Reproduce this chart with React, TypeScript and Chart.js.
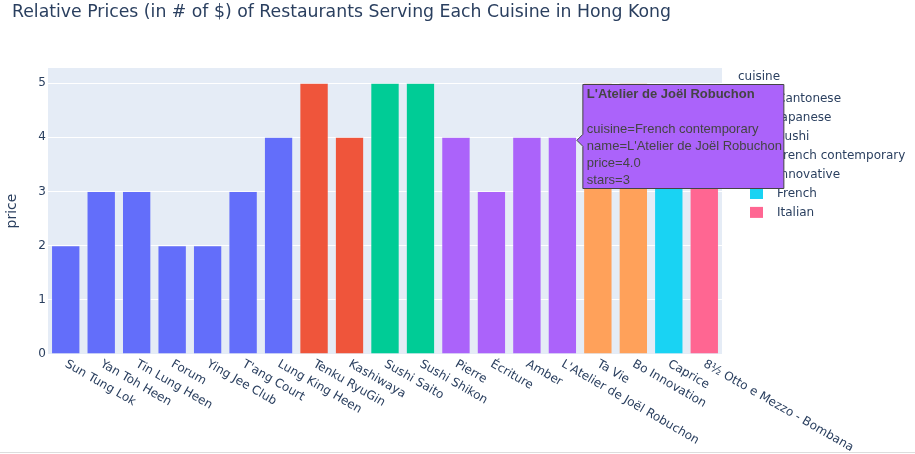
import React, { useEffect, useRef } from "react";
import { Chart, registerables } from "chart.js";

Chart.register(...registerables);

const restaurants = [
  "Sun Tung Lok", "Yan Toh Heen", "Tin Lung Heen", "Forum", "Ying Jee Club", "T'ang Court",
  "Lung King Heen", "Tenku RyuGin", "Kashiwaya", "Sushi Saito", "Sushi Shikon", "Pierre",
  "Écriture", "Amber", "L'Atelier de Joël Robuchon", "Ta Vie", "Bo Innovation", "Caprice",
  "8½ Otto e Mezzo - Bombana",
];
const restaurantCuisine = [
  "Cantonese", "Cantonese", "Cantonese", "Cantonese", "Cantonese", "Cantonese", "Cantonese",
  "Japanese", "Japanese", "Sushi", "Sushi", "French contemporary", "French contemporary",
  "French contemporary", "French contemporary", "Innovative", "Innovative", "French", "Italian",
];
const prices = [2, 3, 3, 2, 2, 3, 4, 5, 4, 5, 5, 4, 3, 4, 4, 5, 5, 4, 4];
const cuisines = ["Cantonese", "Japanese", "Sushi", "French contemporary", "Innovative", "French", "Italian"];
const palette = ["#636efa", "#EF553B", "#00cc96", "#ab63fa", "#FFA15A", "#19d3f3", "#FF6692"];
const yTicks = [0, 1, 2, 3, 4, 5];
const titleText = "Relative Prices (in # of $) of Restaurants Serving Each Cuisine in Hong Kong";
const hoverIndex = 14;
const hoverStars = 3;

const FONT = "'DejaVu Sans', Verdana, sans-serif";
const HFONT = "'Liberation Sans', Arial, sans-serif";
const TXT = "#2a3f5f";

export default function App() {
  const ref = useRef<HTMLCanvasElement | null>(null);

  useEffect(() => {
    document.body.style.margin = "0";
    const canvas = ref.current!;
    const datasets = cuisines.map((c, ci) => ({
      label: c,
      data: restaurants.map((_, i) => (restaurantCuisine[i] === c ? prices[i] : null)),
      backgroundColor: palette[ci],
      borderColor: "#E5ECF6",
      borderWidth: 0.5,
      categoryPercentage: 1,
      barPercentage: 0.8,
    }));

    const deco = {
      id: "deco",
      beforeDraw(chart: any) {
        const { ctx, chartArea: a } = chart;
        ctx.save();
        ctx.fillStyle = "#ffffff";
        ctx.fillRect(0, 0, chart.width, chart.height);
        ctx.fillStyle = "#E5ECF6";
        ctx.fillRect(a.left, a.top, a.right - a.left, a.bottom - a.top + 1);
        ctx.restore();
      },
      afterDraw(chart: any) {
        const { ctx, chartArea: a } = chart;
        const xs = chart.scales.x;
        const ys = chart.scales.y;
        ctx.save();
        // title
        ctx.fillStyle = TXT;
        ctx.font = `17.3px ${FONT}`;
        ctx.textAlign = "left";
        ctx.textBaseline = "middle";
        ctx.fillText(titleText, 12, 13);
        // y title
        ctx.save();
        ctx.translate(12, (a.top + a.bottom) / 2);
        ctx.rotate(-Math.PI / 2);
        ctx.textAlign = "center";
        ctx.font = `14px ${FONT}`;
        ctx.fillText("price", 0, 0);
        ctx.restore();
        // x labels
        ctx.font = `12px ${FONT}`;
        restaurants.forEach((name, i) => {
          const x = xs.getPixelForValue(i);
          ctx.save();
          ctx.translate(x + 3, a.bottom + 4);
          ctx.rotate(Math.PI / 6);
          ctx.textAlign = "left";
          ctx.textBaseline = "top";
          ctx.fillText(name, 0, 0);
          ctx.restore();
        });
        // legend
        ctx.textAlign = "left";
        ctx.textBaseline = "middle";
        ctx.fillStyle = TXT;
        ctx.fillText("cuisine", 738, 77);
        cuisines.forEach((c, i) => {
          const y = 99 + i * 18.9;
          ctx.fillStyle = palette[i];
          ctx.fillRect(750, y - 5.5, 13, 11);
          ctx.fillStyle = TXT;
          ctx.fillText(c, 777, y);
        });
        // hover label
        const tipX = xs.getPixelForValue(hoverIndex) + 14.5;
        const tipY = ys.getPixelForValue(prices[hoverIndex]) + 3;
        const bx = tipX + 6, by = 84.5, bw = 201, bh = 104;
        ctx.beginPath();
        ctx.moveTo(tipX, tipY);
        ctx.lineTo(bx, tipY - 6);
        ctx.lineTo(bx, by);
        ctx.lineTo(bx + bw, by);
        ctx.lineTo(bx + bw, by + bh);
        ctx.lineTo(bx, by + bh);
        ctx.lineTo(bx, tipY + 6);
        ctx.closePath();
        ctx.fillStyle = palette[cuisines.indexOf(restaurantCuisine[hoverIndex])];
        ctx.fill();
        ctx.strokeStyle = "#444444";
        ctx.lineWidth = 1;
        ctx.stroke();
        ctx.fillStyle = "#444444";
        const tx = bx + 4;
        ctx.font = `bold 13px ${HFONT}`;
        ctx.fillText(restaurants[hoverIndex], tx, 94);
        ctx.font = `13px ${HFONT}`;
        const lines = [
          `cuisine=${restaurantCuisine[hoverIndex]}`,
          `name=${restaurants[hoverIndex]}`,
          `price=${prices[hoverIndex].toFixed(1)}`,
          `stars=${hoverStars}`,
        ];
        lines.forEach((l, i) => ctx.fillText(l, tx, 129 + i * 17));
        // bottom line
        ctx.fillStyle = "#dddddd";
        ctx.fillRect(0, 452, chart.width, 1);
        ctx.restore();
      },
    };

    const chart = new Chart(canvas, {
      type: "bar",
      data: { labels: restaurants, datasets },
      options: {
        animation: false,
        responsive: false,
        maintainAspectRatio: false,
        layout: { padding: { top: 68, right: 193, bottom: 100, left: 0 } },
        plugins: { legend: { display: false }, tooltip: { enabled: false }, title: { display: false } },
        scales: {
          x: { stacked: true, display: false, grid: { display: false } },
          y: {
            stacked: true,
            min: 0,
            max: 5.28,
            afterFit(s: any) { s.width = 48; },
            afterBuildTicks(s: any) { s.ticks = yTicks.map((v) => ({ value: v })); },
            border: { display: false },
            grid: { color: "#ffffff", lineWidth: 1, drawTicks: false },
            ticks: { color: TXT, font: { family: FONT, size: 12 }, padding: 2 },
          },
        },
      },
      plugins: [deco],
    });
    return () => chart.destroy();
  }, []);

  return <canvas ref={ref} width={915} height={454} style={{ display: "block" }} />;
}
